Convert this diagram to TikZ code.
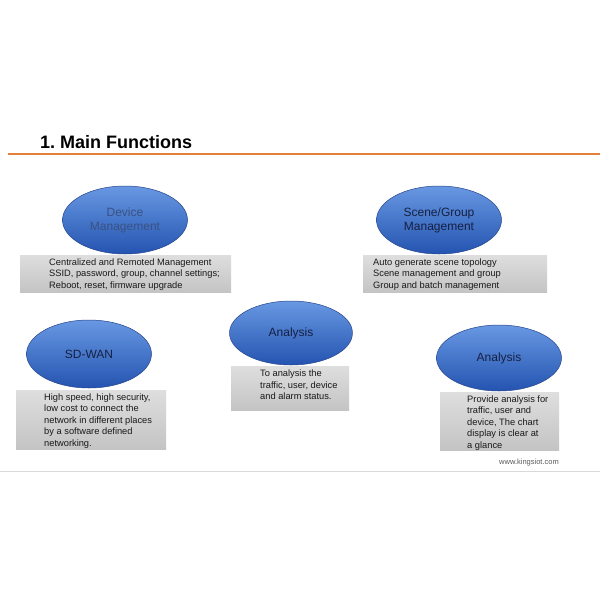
\documentclass[tikz,border=0pt]{standalone}
\usepackage{fontspec}
\setmainfont{Liberation Sans}
\usetikzlibrary{shapes.geometric,shadings}
\definecolor{ellTop}{RGB}{104,152,226}
\definecolor{ellBot}{RGB}{36,84,176}
\definecolor{ellLine}{RGB}{40,70,140}
\definecolor{ellText}{RGB}{22,32,66}
\definecolor{devText}{RGB}{58,82,130}
\definecolor{boxTop}{RGB}{222,222,222}
\definecolor{boxBot}{RGB}{196,196,196}
\definecolor{accent}{RGB}{226,128,60}
\tikzset{
  x=1pt,y=-1pt,
  bubble/.style={ellipse, draw=ellLine, line width=0.5pt, top color=ellTop, bottom color=ellBot,
    minimum width=125pt, minimum height=68pt, inner sep=0pt, align=center,
    font=\fontsize{12}{14}\selectfont, text=ellText},
  gbox/.style={rectangle, top color=boxTop, bottom color=boxBot, inner sep=0pt},
  btext/.style={anchor=north west, inner sep=0pt, align=left, text=black!90,
    font=\fontsize{9.3}{11.4}\selectfont},
}
\begin{document}
\begin{tikzpicture}
\useasboundingbox (0,0) rectangle (600,600);
\fill[white] (0,0) rectangle (600,600);
% title
\node[anchor=base west, inner sep=0pt, font=\fontsize{18}{20}\selectfont\bfseries] (title) at (40,148) {1.\ Main Functions};
\coordinate (ruleL) at (8,153.5);
\coordinate (ruleR) at (600,153.5);
\draw[accent, line width=2pt] (ruleL) -- (ruleR);
% Device management
\node[gbox, minimum width=211pt, minimum height=37pt] (b1) at (125.5,273.5) {};
\node[bubble, text=devText] (e1) at (125,220) {Device\\Management};
\node[btext] (t1) at (49,258.5) {Centralized and Remoted Management\\SSID, password, group, channel settings;\\Reboot, reset, firmware upgrade};
% Scene/Group
\node[gbox, minimum width=184pt, minimum height=37pt] (b2) at (455,273.5) {};
\node[bubble] (e2) at (439,220) {Scene/Group\\Management};
\node[btext] (t2) at (373,258.5) {Auto generate scene topology\\Scene management and group\\Group and batch management};
% SD-WAN
\node[gbox, minimum width=150pt, minimum height=59pt] (b3) at (91,419.5) {};
\node[bubble] (e3) at (89,354) {SD-WAN};
\node[btext] (t3) at (44,393.5) {High speed, high security,\\low cost to connect the\\network in different places\\by a software defined\\networking.};
% Analysis centre
\node[gbox, minimum width=118pt, minimum height=44pt] (b4) at (290,388) {};
\node[bubble, minimum width=123pt, minimum height=64pt] (e4) at (291,333) {Analysis};
\node[btext] (t4) at (260,370) {To analysis the\\traffic, user, device\\and alarm status.};
% Analysis right
\node[gbox, minimum width=119pt, minimum height=58pt] (b5) at (499.5,421) {};
\node[bubble, minimum height=66pt] (e5) at (499,358) {Analysis};
\node[btext] (t5) at (467,395.5) {Provide analysis for\\traffic, user and\\device, The chart\\display is clear at\\a glance};
% footer
\node[anchor=base east, inner sep=0pt, text=black!65, font=\fontsize{7.5}{9}\selectfont] (web) at (559,464) {www.kingsiot.com};
\coordinate (footL) at (0,471);
\coordinate (footR) at (600,471);
\draw[black!15, line width=0.8pt] (footL) -- (footR);
\end{tikzpicture}
\end{document}
